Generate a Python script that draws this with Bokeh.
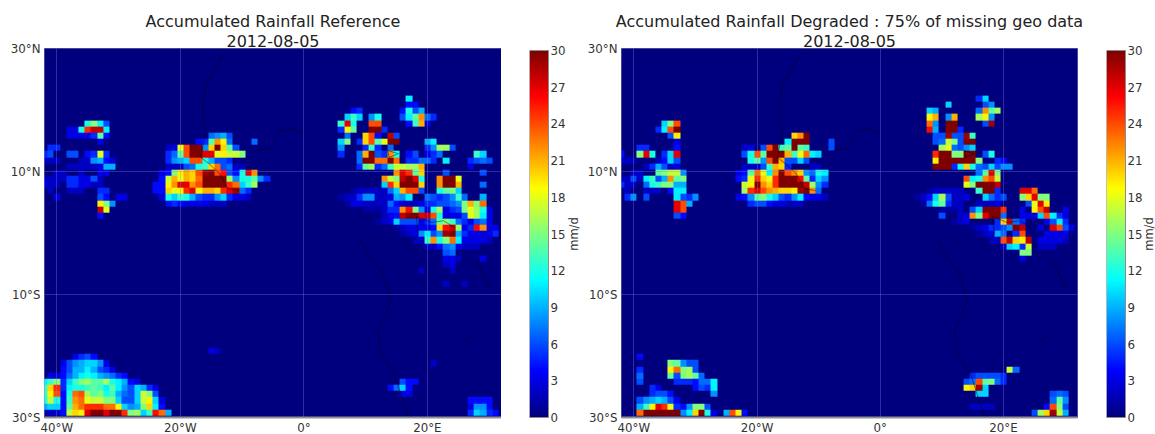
import math

import numpy as np
from bokeh.core.properties import value
from bokeh.embed import file_html
from bokeh.layouts import row
from bokeh.models import FixedTicker, LinearColorMapper, Title
from bokeh.plotting import figure
from bokeh.resources import INLINE

# ---- labels ----
title_ref = "Accumulated Rainfall Reference"
title_deg = "Accumulated Rainfall Degraded : 75% of missing geo data"
date_label = "2012-08-05"
unit_label = "mm/d"
lon_ticks = [-40, -20, 0, 20]
lon_labels = {-40: "40°W", -20: "20°W", 0: "0°", 20: "20°E"}
lat_ticks = [-30, -10, 10, 30]
lat_labels = {-30: "30°S", -10: "10°S", 10: "10°N", 30: "30°N"}
cbar_ticks = [0, 3, 6, 9, 12, 15, 18, 21, 24, 27, 30]

# ---- weak rain seen in both fields, {lat: {lon: value}} ----
haze_atlantic = {
    12: {-42: 2, -41: 2, -40: 2, -36: 2, -35: 2},
    11: {-38: 2, -37: 2, -36: 2, -35: 2, -34: 2, -33: 3},
    10: {-40: 2, -39: 2, -36: 2, -33: 3, -32: 3},
    9: {-42: 2, -41: 2, -40: 2, -39: 2, -36: 3, -35: 3, -33: 2},
    8: {-42: 3, -41: 2, -40: 2, -34: 2, -33: 2},
    7: {-41: 2, -38: 2, -37: 2, -36: 2},
}
haze_guinea = {
    14: {-22: 2, -21: 3},
    11: {-22: 2, -21: 2, -20: 2, -11: 2, -10: 2},
    10: {-23: 3, -22: 4},
    9: {-23: 4},
    6: {-23: 3, -11: 3, -10: 3, -9: 2},
    5: {-18: 3, -17: 3, -16: 3, -15: 2, -14: 2, -13: 2},
}
haze_africa = {
    7: {8: 1, 9: 2, 10: 2, 11: 2, 12: 2, 13: 2},
    6: {6: 1, 7: 2, 8: 2, 12: 2, 13: 2, 14: 3},
    5: {7: 1, 10: 2, 11: 2, 12: 2, 13: 2, 16: 2, 17: 2, 18: 2, 19: 3},
    4: {10: 1, 11: 1, 12: 1, 13: 2, 20: 3, 23: 3, 30: 3},
    3: {13: 2, 14: 3, 15: 4, 23: 3, 24: 3, 25: 3, 30: 3},
    2: {12: 1, 13: 2, 14: 3, 19: 3, 27: 3, 30: 3},
    1: {15: 1, 16: 2, 17: 3, 18: 3, 19: 3, 20: 3, 26: 3, 30: 3, 31: 3},
    0: {16: 1, 17: 2, 18: 3, 27: 3, 28: 3, 29: 3, 30: 3},
    -1: {18: 2, 19: 2, 26: 3, 27: 3, 28: 3, 29: 3, 30: 2},
    -2: {20: 2, 21: 2, 26: 2, 27: 2, 28: 2},
}

# ---- reference field, mm/d, {lat: {lon: value}} ----
ref_atlantic = {
    18: {-35: 12, -34: 15, -33: 11, -32: 6},
    17: {-38: 3, -37: 3, -36: 12, -35: 25, -34: 28, -33: 28, -32: 11},
    16: {-38: 3, -37: 3, -36: 3, -35: 3, -34: 5, -33: 14, -32: 4},
    15: {-33: 3},
    14: {-41: 5, -40: 5},
    13: {-42: 5, -41: 6, -38: 6, -37: 6, -35: 4, -34: 5, -33: 18, -32: 5},
    12: {-34: 8, -33: 9, -32: 4, -31: 3},
    11: {-32: 9, -31: 9},
    9: {-38: 5, -37: 5, -34: 6},
    8: {-38: 5, -37: 5, -36: 3, -35: 3},
    7: {-33: 5, -32: 5},
    6: {-40: 3, -33: 6, -32: 4, -30: 3, -29: 3},
    5: {-33: 19, -32: 15, -31: 8},
    4: {-33: 28, -32: 18},
    3: {-33: 4},
}
ref_guinea = {
    16: {-15: 7, -14: 8, -13: 9, -12: 6},
    15: {-17: 4, -16: 5, -15: 14, -14: 22, -13: 19, -12: 7, -8: 7},
    14: {-20: 18, -19: 24, -18: 30, -17: 30, -16: 8, -15: 20, -14: 30, -13: 20, -12: 14, -11: 6},
    13: {-22: 5, -21: 7, -20: 14, -19: 24, -18: 30, -17: 30, -16: 27, -15: 27, -14: 18, -13: 19, -12: 17, -11: 17, -10: 15},
    12: {-22: 5, -21: 8, -20: 9, -19: 10, -18: 24, -17: 24, -16: 12, -15: 9, -14: 6, -13: 6, -12: 5},
    11: {-19: 6, -18: 7, -17: 12, -16: 13, -15: 20, -14: 23, -13: 6, -12: 7},
    10: {-21: 15, -20: 19, -19: 21, -18: 20, -17: 24, -16: 29, -15: 30, -14: 24, -13: 26, -12: 6, -11: 4, -10: 12, -9: 27, -8: 22},
    9: {-22: 17, -21: 21, -20: 18, -19: 21, -18: 20, -17: 23, -16: 30, -15: 30, -14: 30, -13: 30, -12: 16, -11: 8, -10: 12, -9: 12, -8: 14, -7: 8, -6: 5},
    8: {-24: 4, -23: 4, -22: 19, -21: 22, -20: 27, -19: 27, -18: 22, -17: 24, -16: 30, -15: 30, -14: 30, -13: 30, -12: 25, -11: 23, -10: 10, -9: 13, -8: 16},
    7: {-24: 4, -23: 4, -22: 20, -21: 18, -20: 19, -19: 25, -18: 27, -17: 19, -16: 21, -15: 21, -14: 20, -13: 25, -12: 27, -11: 29, -10: 7, -9: 5},
    6: {-22: 12, -21: 10, -20: 13, -19: 12, -18: 9, -17: 6, -16: 5, -15: 5, -14: 8, -13: 10, -12: 5},
    5: {-22: 4, -21: 5, -20: 4, -19: 3},
}
ref_africa = {
    22: {17: 11},
    21: {17: 4, 18: 4},
    20: {8: 4, 9: 5, 16: 4, 17: 12, 18: 6, 19: 9},
    19: {7: 10, 8: 13, 9: 10, 11: 8, 12: 12, 16: 6, 17: 11, 18: 14, 19: 22, 20: 7, 21: 5},
    18: {6: 13, 7: 27, 8: 12, 11: 24, 12: 24, 17: 4, 18: 13, 19: 21, 20: 3},
    17: {6: 5, 7: 19, 8: 14, 11: 30, 12: 30, 13: 5},
    16: {7: 7, 10: 20, 11: 24, 12: 4, 14: 28, 15: 6},
    15: {6: 10, 7: 15, 9: 5, 10: 20, 11: 24, 12: 14, 13: 18, 14: 30, 15: 30, 20: 9, 21: 11},
    14: {6: 8, 10: 5, 11: 13, 12: 5, 14: 7, 20: 5, 21: 8, 22: 16, 23: 16, 24: 6},
    13: {6: 5, 9: 7, 10: 21, 11: 30, 12: 6, 13: 5, 14: 22, 15: 12, 17: 4, 18: 6, 20: 3, 21: 5, 22: 7, 28: 13, 29: 10},
    12: {9: 7, 10: 30, 11: 30, 12: 23, 13: 23, 14: 30, 15: 23, 17: 5, 18: 5, 19: 7, 20: 7, 21: 5, 23: 11, 27: 5, 28: 6, 29: 7, 30: 6},
    11: {9: 5, 10: 14, 11: 16, 12: 5, 13: 7, 14: 13, 15: 17, 16: 17, 17: 16, 18: 16, 19: 21, 27: 3},
    10: {15: 22, 16: 27, 17: 25, 18: 14, 19: 20, 23: 6, 29: 6},
    9: {13: 22, 14: 17, 15: 15, 16: 28, 17: 30, 18: 27, 19: 12, 22: 22, 23: 30, 24: 30, 25: 18},
    8: {13: 10, 14: 25, 15: 20, 16: 30, 17: 30, 18: 30, 19: 20, 22: 22, 23: 30, 24: 30, 25: 21, 29: 7},
    7: {14: 7, 15: 10, 16: 21, 17: 24, 18: 24, 19: 6, 22: 12, 23: 14, 24: 15, 25: 10},
    6: {9: 5, 10: 8, 11: 8, 15: 9, 16: 8, 17: 11, 20: 7, 21: 6, 22: 5, 23: 6, 24: 8, 25: 13, 26: 7, 29: 9},
    5: {8: 3, 9: 3, 14: 7, 15: 4, 20: 5, 21: 5, 22: 6, 23: 6, 24: 7, 25: 8, 26: 15, 27: 21, 28: 15, 29: 23},
    4: {14: 5, 15: 5, 16: 22, 17: 26, 18: 15, 19: 8, 21: 12, 22: 16, 24: 5, 25: 6, 26: 15, 27: 18, 28: 16, 29: 12},
    3: {16: 28, 17: 30, 18: 30, 19: 27, 20: 28, 21: 24, 22: 12, 26: 6, 27: 18, 28: 16, 29: 11},
    2: {15: 10, 16: 6, 17: 6, 18: 6, 20: 5, 21: 7, 22: 14, 23: 15, 24: 13, 25: 7, 26: 5, 28: 6, 29: 7},
    1: {21: 4, 22: 20, 23: 26, 24: 28, 25: 16, 27: 5, 28: 26, 29: 22},
    0: {19: 8, 20: 11, 21: 6, 22: 8, 23: 29, 24: 30, 25: 9, 26: 5, 31: 5},
    -1: {20: 13, 21: 22, 22: 12, 23: 15, 24: 23, 25: 11},
    -2: {22: 4, 23: 7, 24: 8, 25: 3},
    -3: {23: 6, 24: 7},
    -4: {23: 3, 24: 3, 25: 2, 29: 3},
    -5: {23: 2, 24: 3},
    -6: {24: 2, 19: 2},
    -8: {23: 2, 26: 2},
}
ref_south_west = {
    -19: {-15: 3, -14: 2},
    -20: {-37: 3, -36: 5, -35: 6, -34: 4},
    -21: {-39: 3, -38: 6, -37: 8, -36: 9, -35: 10, -34: 10, -33: 8, -32: 3},
    -22: {-39: 4, -38: 6, -37: 9, -36: 9, -35: 11, -34: 9, -33: 6, -32: 5, -31: 3},
    -23: {-41: 3, -40: 3, -39: 4, -38: 7, -37: 9, -36: 11, -35: 12, -34: 11, -33: 9, -32: 8, -31: 7, -30: 5, -29: 4},
    -24: {-42: 11, -41: 13, -40: 15, -39: 5, -38: 10, -37: 13, -36: 15, -35: 16, -34: 14, -33: 14, -32: 16, -31: 12, -30: 11, -29: 9, -28: 4, -27: 3},
    -25: {-42: 13, -41: 20, -40: 25, -39: 5, -38: 11, -37: 12, -36: 12, -35: 13, -34: 14, -33: 13, -32: 11, -31: 14, -30: 11, -29: 8, -28: 6, -27: 10, -26: 9, -25: 5, -24: 3},
    -26: {-42: 13, -41: 19, -40: 24, -39: 4, -38: 12, -37: 23, -36: 24, -35: 16, -34: 14, -33: 15, -32: 12, -31: 13, -30: 9, -29: 7, -28: 6, -27: 10, -26: 17, -25: 15, -24: 6},
    -27: {-42: 12, -41: 17, -40: 12, -39: 4, -38: 13, -37: 22, -36: 23, -35: 18, -34: 17, -33: 17, -32: 15, -31: 15, -30: 10, -29: 6, -28: 6, -27: 10, -26: 17, -25: 19, -24: 10, -23: 3},
    -28: {-42: 9, -41: 10, -40: 10, -39: 4, -38: 14, -37: 21, -36: 23, -35: 25, -34: 25, -33: 25, -32: 23, -31: 23, -30: 19, -29: 10, -28: 8, -27: 9, -26: 15, -25: 20, -24: 11, -23: 4},
    -29: {-42: 1, -41: 2, -40: 2, -39: 4, -38: 17, -37: 20, -36: 19, -35: 27, -34: 30, -33: 30, -32: 27, -31: 30, -30: 30, -29: 25, -28: 15, -27: 16, -26: 10, -25: 13, -24: 26, -23: 23, -22: 9},
}
ref_south_east = {
    -21: {21: 2},
    -24: {16: 6, 17: 4, 18: 4},
    -25: {14: 4, 15: 7, 16: 10, 17: 4},
    -26: {16: 3, 17: 3},
    -27: {27: 4, 28: 4, 29: 4, 30: 4},
    -28: {27: 3, 28: 8, 29: 8, 30: 4},
    -29: {27: 5, 28: 10, 29: 9, 30: 5, 31: 4},
}

# ---- degraded field ----
deg_atlantic = {
    18: {-35: 10, -34: 15, -33: 24},
    17: {-36: 5, -35: 11, -34: 24, -33: 30},
    16: {-34: 6, -33: 19},
    15: {-33: 3},
    14: {-39: 5, -38: 5, -33: 4},
    13: {-42: 4, -39: 15, -38: 27, -37: 12, -35: 5, -34: 10, -33: 27},
    12: {-35: 4, -34: 10, -33: 6},
    11: {-36: 9, -35: 6, -37: 5},
    10: {-36: 14, -35: 15, -34: 17, -33: 17, -32: 8},
    9: {-40: 6, -38: 11, -37: 13, -36: 6, -35: 9, -34: 22, -33: 14, -32: 15},
    8: {-42: 5, -38: 7, -37: 12, -36: 13, -35: 15, -34: 15, -33: 9, -32: 9},
    7: {-34: 4, -33: 11, -32: 11},
    6: {-41: 5, -40: 8, -38: 6, -33: 11, -32: 6, -31: 5, -30: 8},
    5: {-33: 27, -32: 24, -31: 9},
    4: {-33: 27, -32: 24},
    3: {-33: 6, -32: 4},
}
deg_guinea = {
    16: {-14: 20, -13: 22, -12: 30},
    15: {-15: 11, -14: 30, -13: 30, -12: 30, -8: 6},
    14: {-19: 6, -18: 24, -17: 30, -16: 13, -15: 14, -14: 30, -13: 14, -12: 13, -8: 6},
    13: {-22: 6, -21: 12, -20: 24, -19: 14, -18: 30, -17: 30, -16: 30, -15: 21, -14: 13, -13: 18, -12: 23, -11: 11, -10: 10},
    12: {-21: 12, -20: 14, -19: 8, -18: 24, -17: 30, -16: 21, -15: 6, -14: 6, -13: 10, -12: 6},
    11: {-19: 6, -18: 13, -17: 21, -16: 20, -15: 5},
    10: {-21: 14, -20: 23, -19: 18, -18: 11, -17: 22, -16: 30, -15: 24, -14: 22, -13: 20, -12: 8, -11: 7, -10: 12, -9: 11},
    9: {-22: 5, -21: 18, -20: 25, -19: 20, -18: 18, -17: 25, -16: 30, -15: 30, -14: 30, -13: 26, -12: 14, -11: 5, -10: 10, -9: 8},
    8: {-22: 17, -21: 19, -20: 30, -19: 22, -18: 20, -17: 25, -16: 30, -15: 30, -14: 30, -13: 30, -12: 28, -11: 16, -10: 8, -9: 5},
    7: {-22: 16, -21: 25, -20: 27, -19: 24, -18: 22, -17: 21, -16: 20, -15: 20, -14: 19, -13: 29, -12: 30, -11: 22, -10: 7},
    6: {-22: 4, -21: 8, -20: 14, -19: 15, -18: 12, -17: 10, -16: 6, -15: 5, -14: 8, -13: 11, -12: 4},
    5: {-21: 5, -20: 6, -19: 6, -18: 4, -17: 3},
}
deg_africa = {
    22: {16: 5, 17: 10},
    21: {11: 10, 17: 6, 18: 8},
    20: {8: 10, 9: 9, 16: 7, 17: 22, 18: 14, 19: 16},
    19: {8: 19, 9: 21, 11: 8, 12: 21, 16: 16, 17: 19, 18: 8},
    18: {8: 23, 9: 8, 11: 30, 12: 30, 17: 6, 18: 29},
    17: {8: 26, 9: 9, 11: 30, 12: 30, 13: 5},
    16: {9: 6, 10: 6, 11: 29, 12: 6, 13: 6, 14: 29, 15: 13},
    15: {9: 6, 10: 7, 11: 17, 12: 15, 13: 6, 14: 30, 15: 30},
    14: {10: 16, 11: 18, 12: 7, 13: 6, 14: 8, 15: 10},
    13: {9: 25, 10: 30, 11: 30, 12: 15, 13: 15, 14: 30, 15: 30, 17: 6, 18: 12},
    12: {9: 19, 10: 30, 11: 30, 12: 30, 13: 30, 14: 30, 15: 30, 16: 15, 19: 5, 20: 4},
    11: {9: 30, 10: 30, 11: 30, 12: 5, 13: 12, 14: 20, 15: 12, 16: 7, 17: 6, 18: 10, 19: 6, 20: 8, 21: 8},
    10: {16: 7, 17: 14, 18: 27, 19: 15},
    9: {14: 24, 15: 11, 16: 12, 17: 22, 18: 24, 19: 17},
    8: {14: 18, 15: 15, 16: 30, 17: 30, 18: 30, 19: 28},
    7: {16: 13, 17: 30, 18: 30, 19: 5, 23: 27, 24: 27, 25: 23},
    6: {8: 4, 9: 10, 10: 16, 11: 6, 17: 10, 18: 7, 19: 5, 20: 6, 23: 15, 24: 20, 25: 27, 26: 15, 27: 15},
    5: {8: 7, 9: 12, 10: 14, 11: 5, 24: 6, 25: 18, 26: 27, 27: 19},
    4: {15: 6, 16: 10, 17: 30, 18: 30, 19: 30, 20: 25, 25: 19, 26: 24, 27: 28},
    3: {10: 6, 15: 22, 16: 15, 17: 27, 18: 30, 19: 30, 20: 7, 26: 10, 27: 24, 28: 11, 29: 5},
    2: {19: 5, 20: 20, 21: 28, 22: 7, 23: 5, 28: 6, 29: 11, 30: 5},
    1: {18: 5, 19: 5, 20: 6, 21: 8, 22: 30, 23: 28, 28: 27, 29: 24, 30: 6},
    0: {19: 9, 20: 7, 22: 5, 23: 24},
    -1: {20: 24, 21: 28, 22: 20, 23: 19, 24: 28},
    -2: {21: 10, 22: 11, 23: 5, 24: 17},
    -3: {23: 15, 24: 15},
    -4: {23: 3},
}
deg_south_west = {
    -20: {-39: 4},
    -21: {-34: 15, -33: 14, -32: 8, -31: 6, -30: 6},
    -22: {-39: 5, -34: 19, -33: 23, -32: 15, -31: 16, -30: 6},
    -23: {-39: 7, -34: 14, -33: 6, -32: 15, -31: 16, -30: 14, -29: 7},
    -24: {-39: 6, -33: 5, -32: 5, -31: 5, -30: 4, -29: 7, -28: 7, -27: 11},
    -25: {-37: 5, -36: 3, -30: 4, -29: 6, -28: 5, -27: 11},
    -26: {-37: 5, -36: 6, -35: 6, -34: 4, -27: 8},
    -27: {-39: 6, -38: 8, -37: 9, -36: 10, -35: 9, -34: 6, -33: 3},
    -28: {-39: 9, -38: 13, -37: 19, -36: 27, -35: 25, -34: 18, -33: 5, -32: 4, -31: 8, -30: 15, -29: 15, -28: 6},
    -29: {-39: 23, -38: 30, -37: 30, -36: 30, -35: 30, -34: 30, -33: 30, -32: 8, -31: 11, -30: 20, -29: 30, -28: 12, -27: 3, -25: 9, -24: 24, -23: 19, -22: 4},
}
deg_south_east = {
    -22: {21: 17, 22: 7},
    -23: {15: 5, 16: 6, 17: 6, 18: 6, 19: 6, 20: 5},
    -24: {14: 6, 15: 7, 16: 24, 17: 14, 18: 15, 19: 7, 20: 5},
    -25: {14: 19, 15: 20, 16: 29, 17: 10},
    -26: {16: 10, 17: 10, 28: 6, 29: 7, 30: 6},
    -27: {28: 7, 29: 14, 30: 8},
    -28: {15: 2, 16: 2, 17: 2, 18: 2, 27: 4, 28: 24, 29: 15, 30: 6},
    -29: {25: 6, 26: 16, 27: 20, 28: 29, 29: 17, 30: 9},
}

# ---- faint coast lines, degrees ----
coast_west_lon = [-12.9, -15.9, -16.3, -16.3, -15.9, -16.7, -15.4, -13.7, -12.3, -10.5]
coast_west_lat = [29.2, 24.0, 21.4, 18.1, 16.5, 12.3, 11.3, 9.7, 7.2, 6.9]
coast_sahel_lon = [-8.2, -5.3, -4.0, -1.6, 0.0]
coast_sahel_lat = [13.3, 13.8, 16.5, 17.0, 16.2]
coast_south_lon = [8.9, 11.2, 12.8, 14.1, 12.0, 12.5, 14.6, 17.0]
coast_south_lat = [-0.7, -4.5, -6.6, -11.0, -15.9, -19.6, -22.8, -30.2]
coast_lake_lon = [13.6, 15.3, 13.8, 13.6]
coast_lake_lat = [13.4, 12.9, 12.3, 13.4]
coast_congo_lon = [16.6, 18.5, 18.2, 20.6, 22.6, 24.4]
coast_congo_lat = [-2.4, -0.1, 2.7, 1.7, 2.0, 0.9]
coast_east_lon = [27.9, 30.2]
coast_east_lat = [-4.5, -9.0]
coast_dash_lon = [26.0, 28.0]
coast_dash_lat = [-17.5, -16.5]
coast_lons = [coast_west_lon, coast_sahel_lon, coast_south_lon, coast_lake_lon, coast_congo_lon, coast_east_lon, coast_dash_lon]
coast_lats = [coast_west_lat, coast_sahel_lat, coast_south_lat, coast_lake_lat, coast_congo_lat, coast_east_lat, coast_dash_lat]


def jet(n=256):
    out = []
    for t in np.linspace(0, 1, n):
        r = np.clip(min(4 * t - 1.5, -4 * t + 4.5), 0, 1)
        g = np.clip(min(4 * t - 0.5, -4 * t + 3.5), 0, 1)
        b = np.clip(min(4 * t + 0.5, -4 * t + 2.5), 0, 1)
        out.append("#%02x%02x%02x" % (int(r * 255), int(g * 255), int(b * 255)))
    return out


mapper = LinearColorMapper(palette=jet(), low=0, high=30)
FONT = "DejaVu Sans"
INK = "#222222"
TICK_INK = "#333333"
TICK_SIZE = "11.8px"


def grid_of(*parts):
    arr = np.zeros((61, 75))
    for part in parts:
        for lat, cells in part.items():
            for lon, v in cells.items():
                arr[lat + 30, lon + 42] = v
    return arr


def map_fig(data, title, fwidth, border_left, border_right=0):
    p = figure(frame_width=fwidth, frame_height=369, x_range=(-42, 32), y_range=(-30, 30),
               min_border_left=border_left, min_border_right=border_right, min_border_top=48, min_border_bottom=17,
               output_backend="svg", toolbar_location=None, background_fill_color="#00007f", frame_align=False)
    p.image(image=[data], x=-42.5, y=-30.7, dw=75, dh=61, color_mapper=mapper)
    p.multi_line(coast_lons, coast_lats, line_color="#000000", line_width=1, line_alpha=0.45)
    p.add_layout(Title(text=date_label, align="center", text_font=FONT, text_font_size="16px",
                       text_font_style="normal", text_color=INK, standoff=4, offset=0), "above")
    p.add_layout(Title(text=title, align="center", text_font=FONT, text_font_size="16px",
                       text_font_style="normal", text_color=INK, standoff=0, offset=0), "above")
    p.xaxis.ticker = FixedTicker(ticks=lon_ticks)
    p.yaxis.ticker = FixedTicker(ticks=lat_ticks)
    p.xaxis.major_label_overrides = lon_labels
    p.yaxis.major_label_overrides = lat_labels
    for ax in (p.xaxis, p.yaxis):
        ax.major_tick_line_color = None
        ax.minor_tick_line_color = None
        ax.major_tick_out = 0
        ax.major_tick_in = 0
        ax.minor_tick_out = 0
        ax.minor_tick_in = 0
        ax.major_label_text_font = FONT
        ax.major_label_text_font_size = TICK_SIZE
        ax.major_label_text_color = TICK_INK
    p.xaxis.major_label_standoff = 3
    p.yaxis.major_label_standoff = 4
    p.yaxis.axis_line_color = None
    p.xaxis.axis_line_color = "#909090"
    p.xaxis.axis_line_width = 2
    p.grid.grid_line_color = "#8080e0"
    p.grid.grid_line_alpha = 0.35
    p.grid.level = "overlay"
    p.outline_line_color = "#8c8cb4"
    return p


def cbar_fig(border_left, frame_w, unit_gap):
    # The frame also holds the colour bar's own tick texts and unit text.
    bar_px = 19
    unit_px = 367 / 30
    ramp = np.linspace(0, 30, 256).reshape(256, 1)
    p = figure(frame_width=frame_w, frame_height=385,
               x_range=(0, frame_w / bar_px), y_range=(-8 / unit_px, 30 + 10 / unit_px),
               min_border_left=border_left, min_border_right=0, min_border_top=40, min_border_bottom=9,
               output_backend="svg", toolbar_location=None, frame_align=False)
    p.axis.visible = False
    p.grid.visible = False
    p.outline_line_color = None
    p.image(image=[ramp], x=0, y=0, dw=1, dh=30, color_mapper=mapper)
    p.quad(left=[0], right=[1], bottom=[0], top=[30], fill_color=None, line_color="#8c8c8c", line_width=1)
    p.text(x=[21 / bar_px] * len(cbar_ticks), y=cbar_ticks, text=[str(t) for t in cbar_ticks],
           text_font=value(FONT), text_font_size=value(TICK_SIZE), text_color=TICK_INK,
           text_align="left", text_baseline="middle")
    p.text(x=[1 + unit_gap / bar_px], y=[15], text=[unit_label], angle=math.pi / 2,
           text_font=value(FONT), text_font_size=value("11.5px"), text_color=TICK_INK,
           text_align="center", text_baseline="middle")
    return p


reference = grid_of(haze_atlantic, haze_guinea, haze_africa,
                    ref_atlantic, ref_guinea, ref_africa, ref_south_west, ref_south_east)
degraded = grid_of(haze_atlantic, haze_guinea, haze_africa,
                   deg_atlantic, deg_guinea, deg_africa, deg_south_west, deg_south_east)

layout = row(
    map_fig(reference, title_ref, 457, 44),
    cbar_fig(28, 52, 25),
    map_fig(degraded, title_deg, 456, 40, border_right=12),
    cbar_fig(17, 49, 23),
    spacing=0,
)
open("out.html", "w").write(file_html(layout, INLINE))
